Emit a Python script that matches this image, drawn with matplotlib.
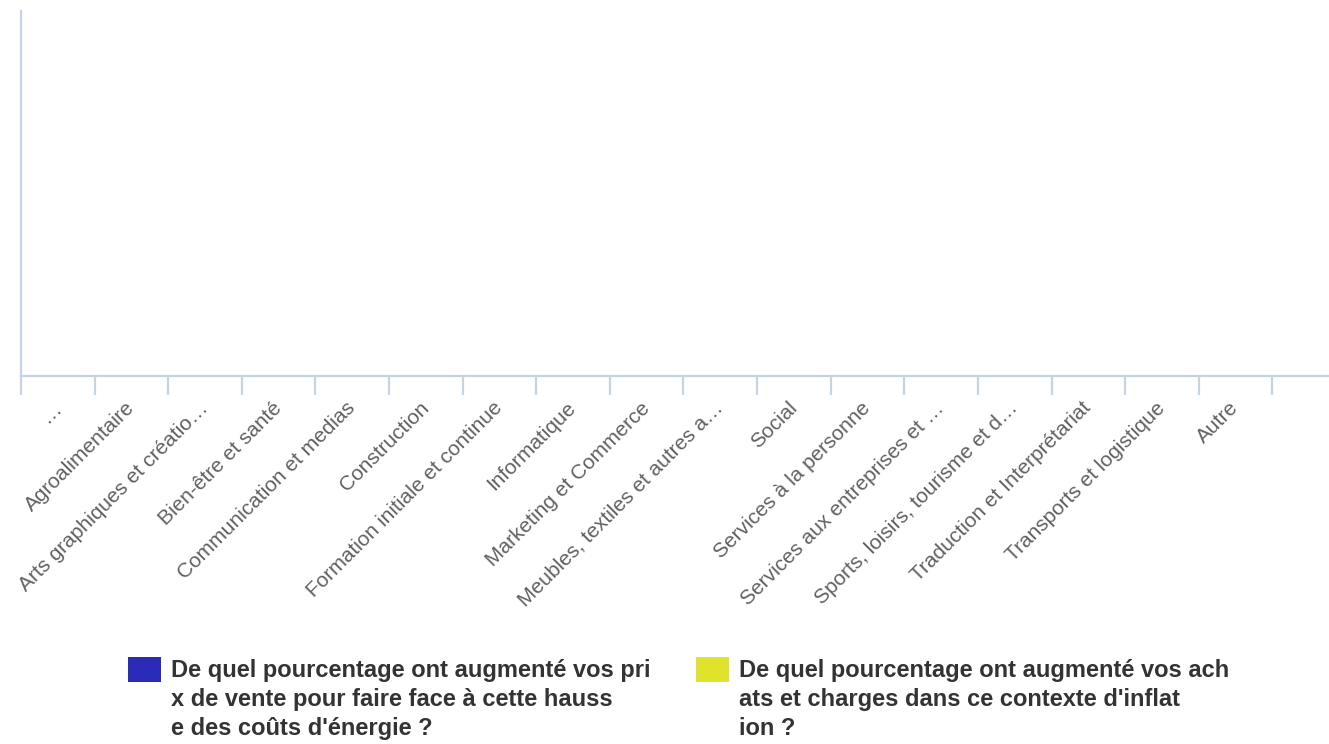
import matplotlib
matplotlib.use("Agg")
import matplotlib.pyplot as plt
from matplotlib.patches import Rectangle
import numpy as np

plt.rcParams['font.family'] = ['Liberation Sans', 'DejaVu Sans']

categories = ["…", "Agroalimentaire", "Arts graphiques et créatio…", "Bien-être et santé",
              "Communication et medias", "Construction", "Formation initiale et continue",
              "Informatique", "Marketing et Commerce", "Meubles, textiles et autres a…",
              "Social", "Services à la personne", "Services aux entreprises et …",
              "Sports, loisirs, tourisme et d…", "Traduction et Interprétariat",
              "Transports et logistique", "Autre"]
# no answers recorded in any sector: both series are empty
prix_vente = [0] * len(categories)
achats_charges = [0] * len(categories)
series_labels = ["De quel pourcentage ont augmenté vos pri\nx de vente pour faire face à cette hauss\ne des coûts d'énergie ?",
                 "De quel pourcentage ont augmenté vos ach\nats et charges dans ce contexte d'inflat\nion ?"]
series_colors = ["#2a2bb8", "#dfe32b"]

W, H = 1329, 744
fig = plt.figure(figsize=(W / 100, H / 100), dpi=100)
ax = fig.add_axes([21/W, 368/H, 1 - 21/W, 365/H])

x = np.arange(len(categories))
w = 0.35
b1 = ax.bar(x - w/2, prix_vente, w, color=series_colors[0], label=series_labels[0])
b2 = ax.bar(x + w/2, achats_charges, w, color=series_colors[1], label=series_labels[1])

ax.set_xlim(-0.5, 17.27)
ax.set_ylim(0, 1)

axis_col = "#c5d4e4"
for s in ["top", "right"]:
    ax.spines[s].set_visible(False)
ax.spines["left"].set_color(axis_col)
ax.spines["left"].set_linewidth(1.6)
ax.spines["bottom"].set_color(axis_col)
ax.spines["bottom"].set_linewidth(1.6)
ax.set_yticks([])

ax.set_xticks(np.arange(len(categories) + 1) - 0.5)
ax.set_xticklabels([])
ax.tick_params(axis="x", which="major", length=14, width=1.6, color=axis_col)
ax.set_xticks(x, minor=True)
ax.set_xticklabels(categories, minor=True, rotation=45, ha="right", va="center",
                   rotation_mode="anchor", fontsize=15, color="#606060")
ax.tick_params(axis="x", which="minor", length=0, pad=21)

# legend drawn by hand so the square sits on the first line of each wrapped label
legend_x = [128, 696]
for lx, lab, col in zip(legend_x, series_labels, series_colors):
    fig.add_artist(Rectangle((lx / W, 1 - 682 / H), 33 / W, 25 / H,
                             transform=fig.transFigure, color=col, lw=0))
    for i, line in enumerate(lab.split("\n")):
        fig.text((lx + 43) / W, 1 - (677 + 29 * i) / H, line, fontsize=17,
                 fontweight="bold", color="#333333", ha="left", va="baseline")

fig.savefig("out.png", dpi=100)
